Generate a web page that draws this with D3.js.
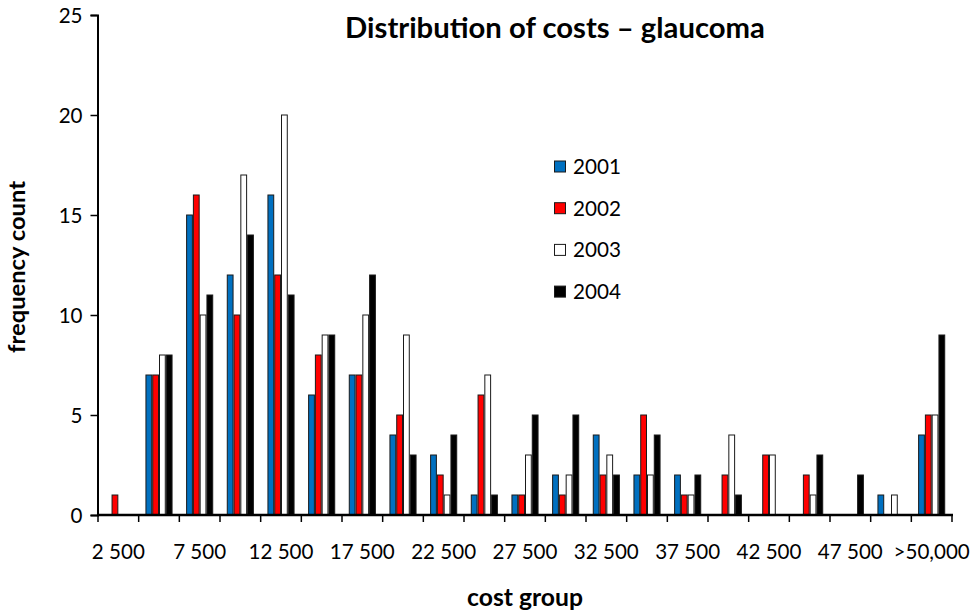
<!DOCTYPE html>
<html><head><meta charset="utf-8">
<script src="https://cdn.jsdelivr.net/npm/d3@7"></script>
<style>body{margin:0;background:#fff}svg{display:block}text{font-family:Lato,"Open Sans",sans-serif;fill:#000}</style>
</head><body>
<script>
const categories = ["2 500","5 000","7 500","10 000","12 500","15 000","17 500","20 000","22 500","25 000","27 500","30 000","32 500","35 000","37 500","40 000","42 500","45 000","47 500","50 000",">50,000"];
const seriesNames = ["2001","2002","2003","2004"];
const s2001 = [0,7,15,12,16,6,7,4,3,1,1,2,4,2,2,0,0,0,0,1,4];
const s2002 = [1,7,16,10,12,8,7,5,2,6,1,1,2,5,1,2,3,2,0,0,5];
const s2003 = [0,8,10,17,20,9,10,9,1,7,3,2,3,2,1,4,3,1,0,1,5];
const s2004 = [0,8,11,14,11,9,12,3,4,1,5,5,2,4,2,1,0,3,2,0,9];
const yTicks = [0,5,10,15,20,25];
const colors = ["#0070C0","#FF0000","#FFFFFF","#000000"];
const seriesValues = [s2001,s2002,s2003,s2004];

const W=974,H=615;
const svg=d3.select("body").append("svg").attr("width",W).attr("height",H);
const x=d3.scaleBand().domain(categories).range([98,952]).paddingInner(0).paddingOuter(0);
const bw=x.bandwidth();
const x1=d3.scaleBand().domain(seriesNames).range([bw/6,bw*5/6]).padding(0);
const y=d3.scaleLinear().domain([0,25]).range([515,15]);

function fitSize(str, target, weight){
  const t=svg.append("text").style("font-size","20px").style("font-weight",weight||"normal").text(str);
  const w=t.node().getComputedTextLength(); t.remove();
  return 20*target/w;
}
const tickFs=fitSize("12 500",65);
const legFs=fitSize("2001",48);
const titleFs=fitSize("Distribution of costs – glaucoma",420,"bold");
const xtFs=fitSize("cost group",116,"bold");
const ytFs=fitSize("frequency count",172,"bold");

// bars
seriesNames.forEach((s,si)=>{
  svg.append("g").selectAll("rect").data(categories.map((c,i)=>({c,v:seriesValues[si][i]})).filter(d=>d.v>0))
   .join("rect")
   .attr("x",d=>x(d.c)+x1(s)+0.5).attr("width",x1.bandwidth()-1)
   .attr("y",d=>y(d.v)).attr("height",d=>y(0)-y(d.v))
   .attr("fill",colors[si]).attr("stroke","#1a1a1a").attr("stroke-width",1);
});

// y axis
const ya=svg.append("g").attr("transform","translate(97.5,0)")
  .call(d3.axisLeft(y).tickValues(yTicks).tickSize(7).tickPadding(8).tickFormat(d3.format("d")));
ya.select(".domain").attr("stroke","#000").attr("stroke-width",2);
ya.selectAll(".tick line").attr("stroke","#000").attr("stroke-width",1.5);
ya.selectAll(".tick text").style("font-size",tickFs+"px").attr("dy","0.36em");

// x axis
const xa=svg.append("g").attr("transform","translate(0,515)");
xa.append("line").attr("x1",97).attr("x2",953).attr("stroke","#000").attr("stroke-width",2.5);
const bounds=categories.map(c=>x(c)).concat([x(categories[categories.length-1])+bw]);
xa.selectAll("line.tk").data(bounds).join("line").attr("class","tk")
  .attr("x1",d=>d).attr("x2",d=>d).attr("y1",0).attr("y2",7).attr("stroke","#000").attr("stroke-width",1.5);
xa.selectAll("text.lbl").data(categories.filter((c,i)=>i%2===0)).join("text").attr("class","lbl")
  .attr("x",d=>x(d)+bw/2).attr("y",44).attr("text-anchor","middle").style("font-size",tickFs+"px").text(d=>d);

// titles
svg.append("text").attr("x",555).attr("y",38).attr("text-anchor","middle")
  .style("font-size",titleFs+"px").style("font-weight","bold").text("Distribution of costs – glaucoma");
svg.append("text").attr("x",525).attr("y",606).attr("text-anchor","middle")
  .style("font-size",xtFs+"px").style("font-weight","bold").text("cost group");
svg.append("text").attr("transform","translate(25,267) rotate(-90)").attr("text-anchor","middle")
  .style("font-size",ytFs+"px").style("font-weight","bold").text("frequency count");

// legend
const lg=svg.append("g");
seriesNames.forEach((s,i)=>{
  const yy=167+i*41.7;
  lg.append("rect").attr("x",554.5).attr("y",yy-6).attr("width",11).attr("height",11)
    .attr("fill",colors[i]).attr("stroke","#1a1a1a").attr("stroke-width",1);
  lg.append("text").attr("x",573).attr("y",yy+7).style("font-size",legFs+"px").text(s);
});
</script>
</body></html>
